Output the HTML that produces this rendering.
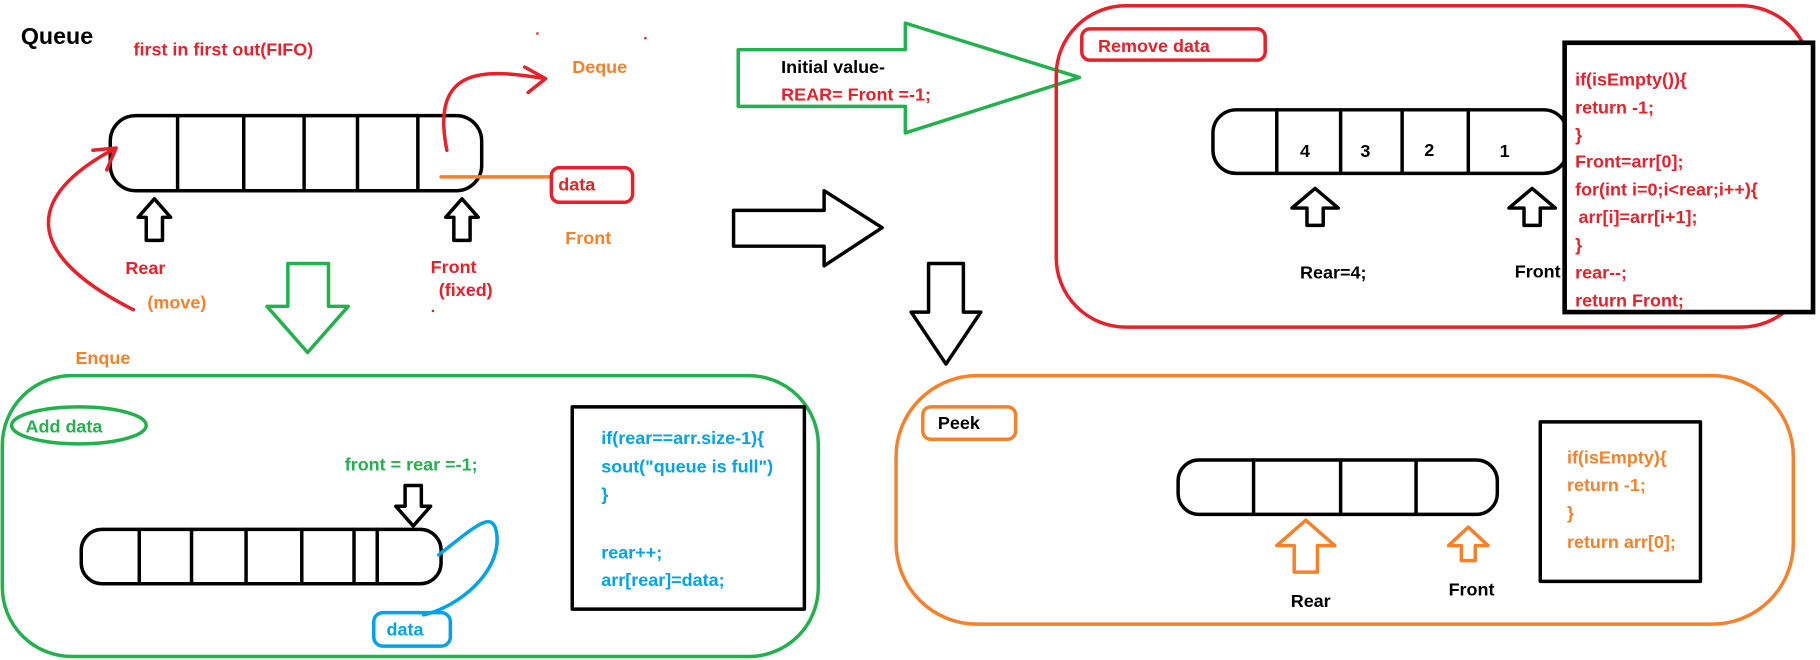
<!DOCTYPE html>
<html><head><meta charset="utf-8"><style>
html,body{margin:0;padding:0;background:#fff;}
svg{display:block;}
text{font-family:"Liberation Sans",sans-serif;font-weight:bold;font-size:15.5px;}
</style></head><body>
<svg width="1820" height="660" viewBox="0 0 1568 571" preserveAspectRatio="none" xmlns="http://www.w3.org/2000/svg">
<rect width="1568" height="571" fill="#fff"/>
<g fill="none" stroke-linejoin="round" stroke-linecap="round">
<rect x="95" y="100" width="320" height="65" rx="22" stroke="#000" stroke-width="3"/>
<path d="M153 100V165M210 100V165M262 100V165M308 100V165M360 100V165" stroke="#000" stroke-width="3"/>
<path d="M115 268C20 220 20 170 100 128M80 130L100 128L92 147" stroke="#e8202a" stroke-width="3"/>
<path d="M385 130C370 55 420 60 470 68M452 58L470 68L455 80" stroke="#e8202a" stroke-width="3"/>
<path d="M380 153H475" stroke="#f7802a" stroke-width="3"/>
<rect x="475" y="145" width="70" height="30" rx="7" stroke="#e8202a" stroke-width="3"/>
<path d="M126 208V188H119L133 172L147 188H140V208Z" stroke="#000" stroke-width="3"/>
<path d="M391 208V188H384L398 172L412 188H405V208Z" stroke="#000" stroke-width="3"/>
<path d="M248 228H283V265H300L265 305L230 265H248Z" stroke="#22b14c" stroke-width="3"/>
<rect x="2" y="325" width="703" height="243" rx="60" stroke="#22b14c" stroke-width="3"/>
<ellipse cx="68" cy="368" rx="58" ry="16" stroke="#22b14c" stroke-width="3"/>
<path d="M349 420H363V438H371L356 455L341 438H349Z" stroke="#000" stroke-width="3"/>
<rect x="70" y="458" width="310" height="47" rx="18" stroke="#000" stroke-width="3"/>
<path d="M120 458V505M165 458V505M212 458V505M260 458V505M305 458V505M325 458V505" stroke="#000" stroke-width="3"/>
<path d="M378 480C410 455 425 440 428 462C432 495 395 525 365 532" stroke="#00a2e8" stroke-width="3"/>
<rect x="322" y="530" width="66" height="29" rx="8" stroke="#00a2e8" stroke-width="3"/>
<rect x="493" y="352" width="200" height="175" stroke="#000" stroke-width="3"/>
<path d="M632 182H710V165L760 197L710 230V213H632Z" stroke="#000" stroke-width="3"/>
<path d="M636 43H780V20L930 67L780 115V92H636Z" stroke="#22b14c" stroke-width="3"/>
<path d="M800 228H830V270H845L815 315L785 270H800Z" stroke="#000" stroke-width="3"/>
<rect x="910" y="5" width="650" height="278" rx="60" stroke="#e8202a" stroke-width="3"/>
<rect x="932" y="25" width="158" height="27" rx="7" stroke="#e8202a" stroke-width="3"/>
<rect x="1045" y="95" width="305" height="55" rx="20" stroke="#000" stroke-width="3"/>
<path d="M1100 95V150M1155 95V150M1208 95V150M1265 95V150" stroke="#000" stroke-width="3"/>
<path d="M1126 195V180H1113L1133 163L1153 180H1140V195Z" stroke="#000" stroke-width="3"/>
<path d="M1313 195V180H1300L1320 163L1340 180H1327V195Z" stroke="#000" stroke-width="3"/>
<rect x="772" y="325" width="773" height="215" rx="70" stroke="#f7802a" stroke-width="3"/>
<rect x="795" y="352" width="80" height="28" rx="7" stroke="#f7802a" stroke-width="3"/>
<rect x="1015" y="398" width="275" height="47" rx="18" stroke="#000" stroke-width="3"/>
<path d="M1080 398V445M1155 398V445M1220 398V445" stroke="#000" stroke-width="3"/>
<path d="M1115 495V472H1100L1125 450L1150 472H1135V495Z" stroke="#f7802a" stroke-width="3"/>
<path d="M1259 485V472H1248L1265 456L1282 472H1271V485Z" stroke="#f7802a" stroke-width="3"/>
<rect x="1327" y="365" width="138" height="138" stroke="#000" stroke-width="3"/>
</g>
<rect x="1348" y="37" width="214" height="233" fill="#fff" stroke="#000" stroke-width="4"/>
<text x="18" y="38" fill="#000" style="font-size:20px">Queue</text>
<text x="115" y="48" fill="#e8202a">first in first out(FIFO)</text>
<text x="493" y="63" fill="#f7802a">Deque</text>
<text x="481" y="165" fill="#e8202a">data</text>
<text x="487" y="211" fill="#f7802a">Front</text>
<text x="108" y="237" fill="#e8202a">Rear</text>
<text x="127" y="267" fill="#f7802a">(move)</text>
<text x="371" y="236" fill="#e8202a">Front</text>
<text x="378" y="256" fill="#e8202a">(fixed)</text>
<text x="65" y="315" fill="#f7802a">Enque</text>
<text x="22" y="374" fill="#22b14c">Add data</text>
<text x="297" y="407" fill="#22b14c">front = rear =-1;</text>
<text x="333" y="550" fill="#00a2e8">data</text>
<g fill="#00a2e8"><text x="518" y="384">if(rear==arr.size-1){</text><text x="518" y="409">sout("queue is full")</text><text x="518" y="433">}</text><text x="518" y="483">rear++;</text><text x="518" y="507">arr[rear]=data;</text></g>
<text x="673" y="63" fill="#000">Initial value-</text>
<text x="673" y="87" fill="#e8202a">REAR= Front =-1;</text>
<text x="946" y="45" fill="#e8202a">Remove data</text>
<g fill="#000"><text x="1120" y="136">4</text><text x="1172" y="136">3</text><text x="1227" y="135">2</text><text x="1292" y="136">1</text>
<text x="1120" y="241">Rear=4;</text><text x="1305" y="240">Front</text></g>
<g fill="#e8202a"><text x="1357" y="74">if(isEmpty()){</text><text x="1357" y="98">return -1;</text><text x="1357" y="122">}</text><text x="1357" y="145">Front=arr[0];</text><text x="1357" y="169">for(int i=0;i&lt;rear;i++){</text><text x="1360" y="193">arr[i]=arr[i+1];</text><text x="1357" y="217">}</text><text x="1357" y="241">rear--;</text><text x="1357" y="265">return Front;</text></g>
<text x="808" y="371" fill="#000">Peek</text>
<text x="1112" y="525" fill="#000">Rear</text>
<text x="1248" y="515" fill="#000">Front</text>
<g fill="#f7802a"><text x="1350" y="401">if(isEmpty){</text><text x="1350" y="425">return -1;</text><text x="1350" y="449">}</text><text x="1350" y="474">return arr[0];</text></g>
<g fill="#e8202a"><rect x="462" y="28" width="2" height="2"/><rect x="555" y="32" width="2" height="2"/><rect x="372" y="268" width="2" height="2"/></g>
</svg>
</body></html>
